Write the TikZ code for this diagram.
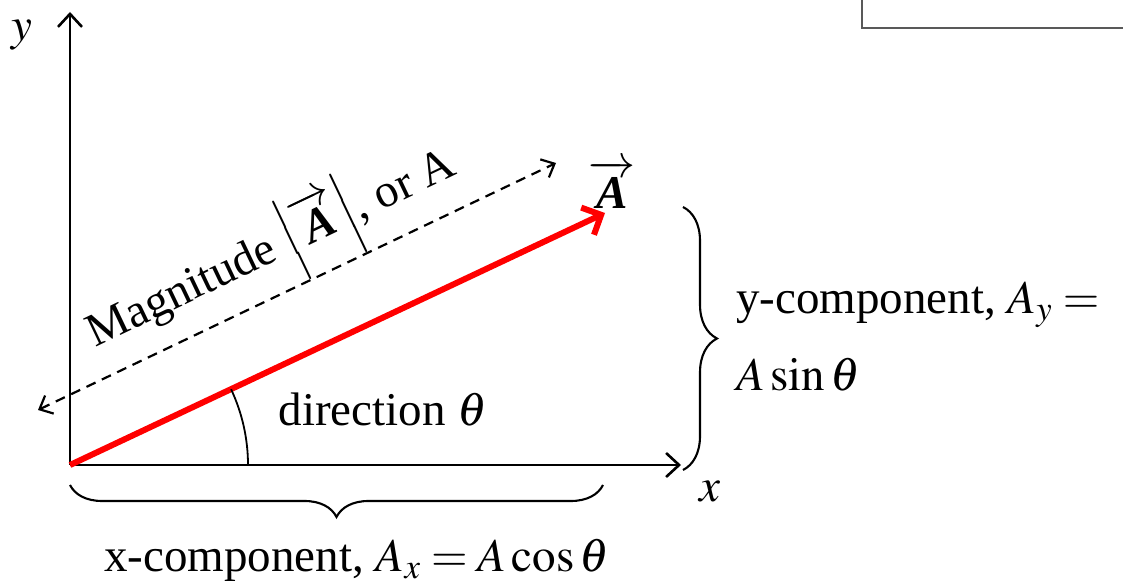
\documentclass[tikz,border=0pt]{standalone}
\usepackage{amsmath}
\usepackage{mathptmx}
\usepackage{fontspec}
\setmainfont{Liberation Serif}
\usetikzlibrary{arrows.meta,decorations.pathreplacing}
\newcommand{\vecA}{\overrightarrow{\text{\bfseries\itshape A}}}
\begin{document}
\begin{tikzpicture}[x=1pt,y=1pt,
  axis/.style={line width=2.6pt,-{Straight Barb[length=13pt,width=24pt,line width=2.6pt]}},
  dashline/.style={line width=2.2pt,dash pattern=on 10pt off 7pt,
    {Straight Barb[length=11pt,width=20pt,line width=2.2pt]}-{Straight Barb[length=11pt,width=20pt,line width=2.2pt]}},
  vec/.style={line width=6pt,red,-{Straight Barb[length=15pt,width=30pt,line width=6pt]}},
  bracestyle/.style={line width=2.1pt,decorate,decoration={brace,amplitude=#1}},
  lab/.style={inner sep=0pt,font=\fontsize{47}{56}\selectfont},
  framecol/.style={line width=2.4pt,black!65}]
\useasboundingbox (0,0) rectangle (1123,588);
\coordinate (O) at (70,123);
\coordinate (Yend) at (70,576);
\coordinate (Xend) at (681,123);
\coordinate (Aend) at (605,375);
\coordinate (D1) at (38,178);
\coordinate (D2) at (556,425);
\coordinate (RB1) at (683,381);
\coordinate (RB2) at (683,118);
\coordinate (BB1) at (603,103);
\coordinate (BB2) at (70,103);
\coordinate (F1) at (862,588);
\coordinate (F2) at (862,560);
\coordinate (F3) at (1123,560);
\draw[framecol] (F1) -- (F2) -- (F3);
\draw[axis] (O) -- (Yend);
\draw[axis] (O) -- (Xend);
\draw[dashline] (D1) -- (D2);
\draw[vec] (O) -- (Aend);
\draw[line width=1.8pt] (O) ++(178,0) arc[start angle=0,end angle=25.2,radius=178];
\draw[bracestyle=34] (RB1) -- (RB2);
\draw[bracestyle=32] (BB1) -- (BB2);
\node[lab] (ylab) at (22,553) {$y$};
\node[lab] (xlab) at (710,96) {$x$};
\node[lab] (Alab) at (612,404) {$\vecA$};
\node[lab,rotate=25.5] (mag) at (272,338) {Magnitude $\Bigl|\vecA\Bigr|$, or A};
\node[lab] (dir) at (383,178) {direction $\theta$};
\node[lab,anchor=west] (yc1) at (736,283) {y-component, $A_y =$};
\node[lab,anchor=west] (yc2) at (736,213) {$A\sin\theta$};
\node[lab] (xc) at (357,28) {x-component, $A_x = A\cos\theta$};
\end{tikzpicture}
\end{document}
